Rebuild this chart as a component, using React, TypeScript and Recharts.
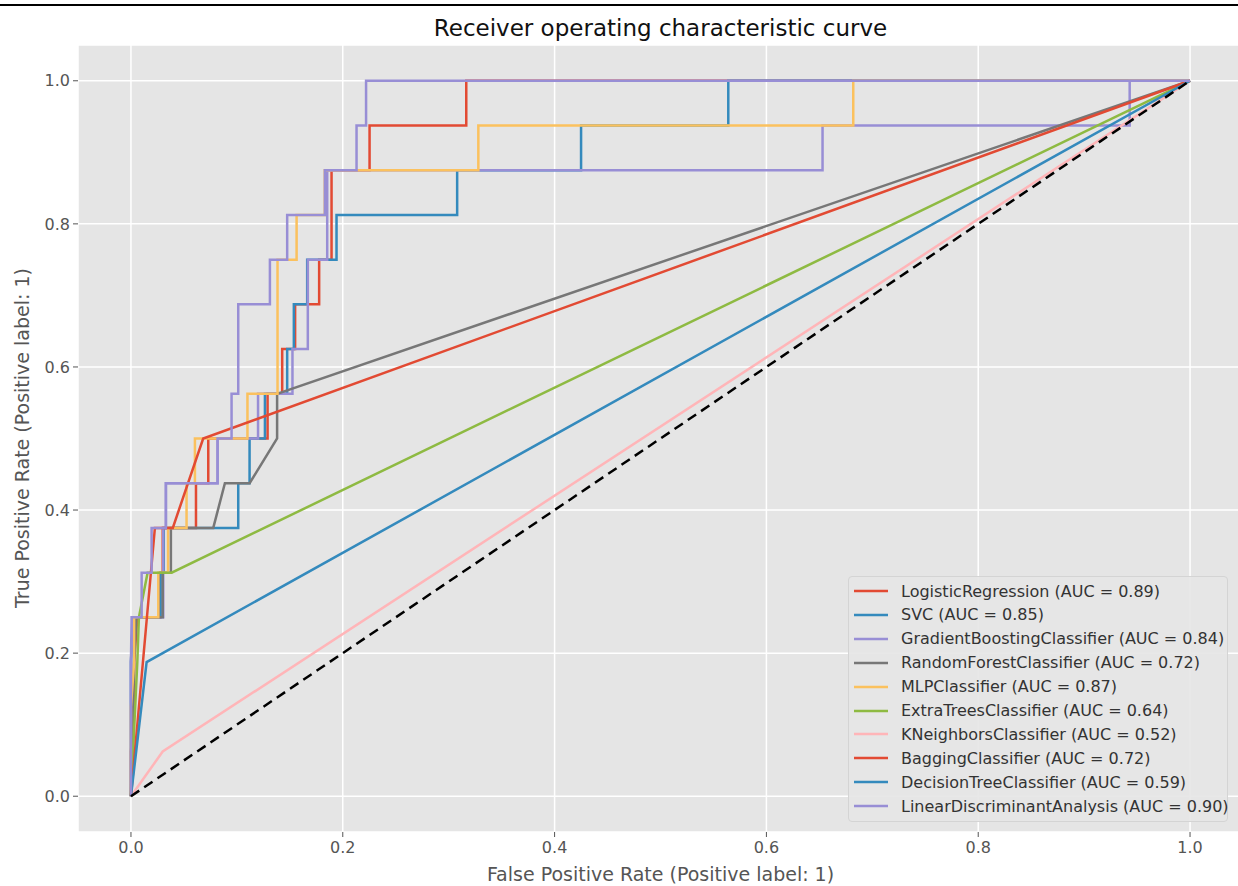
import { CartesianGrid, Line, LineChart, XAxis, YAxis } from "recharts";

// ROC points (fpr / tpr)
const lrFpr = [0, 0, 0.003, 0.003, 0.006, 0.0274, 0.0274, 0.03, 0.03, 0.0614, 0.0614, 0.073, 0.073, 0.129, 0.129, 0.1428, 0.1428, 0.155, 0.155, 0.1777, 0.1777, 0.1894, 0.1894, 0.2253, 0.2253, 0.3166, 0.3166, 1];
const lrTpr = [0, 0.0625, 0.125, 0.1875, 0.25, 0.25, 0.3125, 0.3125, 0.375, 0.375, 0.4375, 0.4375, 0.5, 0.5, 0.5625, 0.5625, 0.625, 0.625, 0.6875, 0.6875, 0.75, 0.75, 0.875, 0.875, 0.9375, 0.9375, 1, 1];

const svcFpr = [0, 0, 0.002, 0.028, 0.028, 0.031, 0.031, 0.1013, 0.1013, 0.112, 0.112, 0.1265, 0.1265, 0.1475, 0.1475, 0.1538, 0.1538, 0.1664, 0.1664, 0.1941, 0.1941, 0.308, 0.308, 0.425, 0.425, 0.564, 0.564, 1];
const svcTpr = [0, 0.1875, 0.25, 0.25, 0.3125, 0.3125, 0.375, 0.375, 0.4375, 0.4375, 0.5, 0.5, 0.5625, 0.5625, 0.625, 0.625, 0.6875, 0.6875, 0.75, 0.75, 0.8125, 0.8125, 0.875, 0.875, 0.9375, 0.9375, 1, 1];

const gbFpr = [0, 0, 0.002, 0.0305, 0.0305, 0.033, 0.033, 0.0818, 0.0818, 0.12, 0.12, 0.1525, 0.1525, 0.167, 0.167, 0.1853, 0.1853, 0.653, 0.653, 0.943, 0.943, 1];
const gbTpr = [0, 0.1875, 0.25, 0.25, 0.375, 0.375, 0.4375, 0.4375, 0.5, 0.5, 0.5625, 0.5625, 0.625, 0.625, 0.75, 0.75, 0.875, 0.875, 0.9375, 0.9375, 1, 1];

const rfFpr = [0, 0.003, 0.005, 0.03, 0.03, 0.0377, 0.0377, 0.0777, 0.0887, 0.112, 0.138, 0.138, 1];
const rfTpr = [0, 0.1875, 0.25, 0.25, 0.3125, 0.3125, 0.375, 0.375, 0.4375, 0.4375, 0.5, 0.5625, 1];

const mlpFpr = [0, 0, 0.003, 0.003, 0.0258, 0.0258, 0.035, 0.035, 0.0525, 0.0525, 0.0604, 0.0604, 0.11, 0.11, 0.1384, 0.1384, 0.1564, 0.1564, 0.183, 0.183, 0.328, 0.328, 0.682, 0.682, 1];
const mlpTpr = [0, 0.125, 0.1875, 0.25, 0.25, 0.3125, 0.3125, 0.375, 0.375, 0.4375, 0.4375, 0.5, 0.5, 0.5625, 0.5625, 0.75, 0.75, 0.8125, 0.8125, 0.875, 0.875, 0.9375, 0.9375, 1, 1];

const etFpr = [0, 0.006, 0.0075, 0.0157, 0.0384, 1];
const etTpr = [0, 0.1875, 0.25, 0.3125, 0.3125, 1];

const knnFpr = [0, 0.03, 1];
const knnTpr = [0, 0.0625, 1];

const bagFpr = [0, 0.0226, 0.0395, 0.0682, 1];
const bagTpr = [0, 0.375, 0.375, 0.5, 1];

const dtFpr = [0, 0.0148, 1];
const dtTpr = [0, 0.1875, 1];

const ldaFpr = [0, 0, 0.0006, 0.0101, 0.0101, 0.0195, 0.0195, 0.033, 0.033, 0.0818, 0.0818, 0.095, 0.095, 0.1013, 0.1013, 0.1312, 0.1312, 0.1475, 0.1475, 0.1831, 0.1831, 0.213, 0.213, 0.222, 0.222, 1];
const ldaTpr = [0, 0.1875, 0.25, 0.25, 0.3125, 0.3125, 0.375, 0.375, 0.4375, 0.4375, 0.5, 0.5, 0.5625, 0.5625, 0.6875, 0.6875, 0.75, 0.75, 0.8125, 0.8125, 0.875, 0.875, 0.9375, 0.9375, 1, 1];

const chanceFpr = [0, 1];
const chanceTpr = [0, 1];

const axisTicks = [0, 0.2, 0.4, 0.6, 0.8, 1.0];

const zip = (fpr: number[], tpr: number[]) => fpr.map((x, i) => ({ x, y: tpr[i] }));

const series = [
	{ name: "LogisticRegression (AUC = 0.89)", color: "#E24A33", data: zip(lrFpr, lrTpr) },
	{ name: "SVC (AUC = 0.85)", color: "#348ABD", data: zip(svcFpr, svcTpr) },
	{ name: "GradientBoostingClassifier (AUC = 0.84)", color: "#988ED5", data: zip(gbFpr, gbTpr) },
	{ name: "RandomForestClassifier (AUC = 0.72)", color: "#777777", data: zip(rfFpr, rfTpr) },
	{ name: "MLPClassifier (AUC = 0.87)", color: "#FBC15E", data: zip(mlpFpr, mlpTpr) },
	{ name: "ExtraTreesClassifier (AUC = 0.64)", color: "#8EBA42", data: zip(etFpr, etTpr) },
	{ name: "KNeighborsClassifier (AUC = 0.52)", color: "#FFB5B8", data: zip(knnFpr, knnTpr) },
	{ name: "BaggingClassifier (AUC = 0.72)", color: "#E24A33", data: zip(bagFpr, bagTpr) },
	{ name: "DecisionTreeClassifier (AUC = 0.59)", color: "#348ABD", data: zip(dtFpr, dtTpr) },
	{ name: "LinearDiscriminantAnalysis (AUC = 0.90)", color: "#988ED5", data: zip(ldaFpr, ldaTpr) },
];

const font = "'DejaVu Sans', sans-serif";
const tickStyle = { fill: "#555555", fontSize: 16, fontFamily: font };

export default function App() {
	return (
		<div style={{ position: "absolute", left: 0, top: 0, width: 1238, height: 886, overflow: "hidden", background: "#fff", fontFamily: font }}>
			<div style={{ position: "absolute", left: 0, top: 4, width: 1238, height: 2, background: "#000" }} />
			<div style={{ position: "absolute", left: 0, top: 14, width: 1321, textAlign: "center", fontSize: 23, color: "#111", lineHeight: "28px" }}>
				Receiver operating characteristic curve
			</div>
			<LineChart width={1245} height={886} margin={{ top: 45, right: 2, left: 0, bottom: 0 }}>
				<CartesianGrid fill="#E5E5E5" stroke="#FFFFFF" strokeWidth={1.5} />
				<XAxis
					type="number"
					dataKey="x"
					domain={[-0.05, 1.05]}
					ticks={axisTicks}
					allowDataOverflow
					height={54}
					axisLine={false}
					tickLine={{ stroke: "#555555" }}
					tickSize={5}
					tickMargin={5}
					tick={tickStyle}
					tickFormatter={(v: number) => v.toFixed(1)}
				/>
				<YAxis
					type="number"
					dataKey="y"
					domain={[-0.05, 1.05]}
					ticks={axisTicks}
					allowDataOverflow
					width={78}
					axisLine={false}
					tickLine={{ stroke: "#555555" }}
					tickSize={5}
					tickMargin={3}
					tick={tickStyle}
					tickFormatter={(v: number) => v.toFixed(1)}
				/>
				{series.map((s) => (
					<Line
						key={s.name}
						data={s.data}
						dataKey="y"
						type="linear"
						stroke={s.color}
						strokeWidth={2.5}
						dot={false}
						activeDot={false}
						isAnimationActive={false}
					/>
				))}
				<Line
					data={zip(chanceFpr, chanceTpr)}
					dataKey="y"
					type="linear"
					stroke="#000000"
					strokeWidth={2.5}
					strokeDasharray="10 6"
					dot={false}
					activeDot={false}
					isAnimationActive={false}
				/>
			</LineChart>
			<div style={{ position: "absolute", left: 0, top: 862, width: 1321, textAlign: "center", fontSize: 19, color: "#555555", lineHeight: "24px" }}>
				False Positive Rate (Positive label: 1)
			</div>
			<div
				style={{
					position: "absolute",
					left: 22,
					top: 438,
					transform: "translate(-50%, -50%) rotate(-90deg)",
					whiteSpace: "nowrap",
					fontSize: 19,
					color: "#555555",
					lineHeight: "24px",
				}}
			>
				True Positive Rate (Positive label: 1)
			</div>
			<div
				style={{
					position: "absolute",
					left: 848,
					top: 576,
					width: 380,
					height: 246,
					boxSizing: "border-box",
					background: "rgba(229,229,229,0.9)",
					border: "1px solid #D4D4D4",
					borderRadius: 4,
				}}
			>
				{series.map((s, i) => (
					<div
						key={s.name}
						style={{ position: "absolute", left: 0, top: 2 + i * 23.9, display: "flex", alignItems: "center", height: 24, fontSize: 16, color: "#333333" }}
					>
						<svg width={52} height={24} style={{ display: "block" }}>
							<line x1={5} x2={39} y1={12} y2={12} stroke={s.color} strokeWidth={2.5} />
						</svg>
						<span style={{ whiteSpace: "nowrap" }}>{s.name}</span>
					</div>
				))}
			</div>
		</div>
	);
}
